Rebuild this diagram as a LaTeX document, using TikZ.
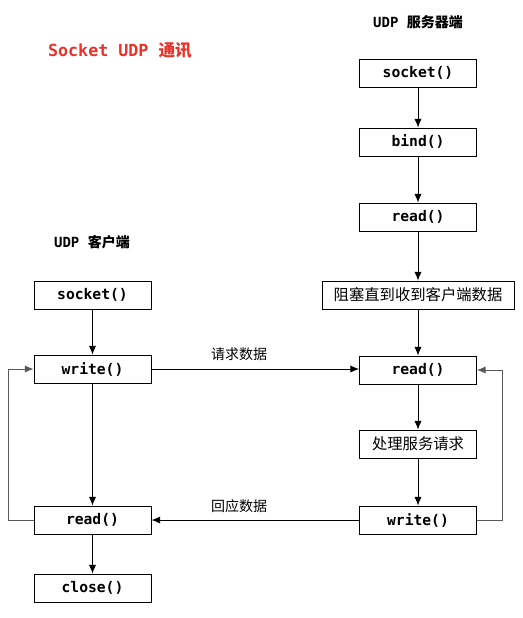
\documentclass[tikz,border=0pt]{standalone}
\usepackage{xcolor}
\usepackage{fontspec}
\usepackage{tikz}
\usetikzlibrary{shapes,arrows.meta,positioning,calc}
\setmonofont{DejaVu Sans Mono}
\newfontfamily\cjk{Noto Sans CJK SC}
\definecolor{titlered}{HTML}{E8322B}

\tikzset{
  func/.style={draw, line width=0.75pt, minimum width=87.75pt, minimum height=21pt,
    inner sep=0pt, font=\ttfamily\bfseries\fontsize{11}{13}\selectfont},
  flow/.style={-{Latex[length=6.5pt,width=5.5pt]}, line width=0.7pt},
  backline/.style={-{Latex[length=6.5pt,width=5.5pt]}, line width=0.7pt, black!65},
  msg/.style={font=\cjk\fontsize{10.5}{12}\selectfont},
  side/.style={font=\ttfamily\bfseries\fontsize{10.5}{12}\selectfont}
}

\begin{document}
\begin{tikzpicture}[x=0.75pt, y=-0.75pt]
        \useasboundingbox (0,0) rectangle (523,618);

        % Title
        \node[text=titlered, font=\ttfamily\bfseries\fontsize{12.5}{14}\selectfont] (title) at (120,50)
            {Socket UDP {\cjk\bfseries 通讯}};

        % Server side
        \node[side] (slabel) at (418,22) {UDP {\cjk\bfseries 服务器端}};
        \node[func] (ssocket) at (418,73) {socket()};
        \node[func] (sbind) at (418,142) {bind()};
        \node[func] (sread1) at (418,217) {read()};
        \node[func, minimum width=144pt, font=\cjk\fontsize{11.5}{13}\selectfont] (sblock) at (418,295) {阻塞直到收到客户端数据};
        \node[func] (sread) at (418,370) {read()};
        \node[func, font=\cjk\fontsize{11.5}{13}\selectfont] (sproc) at (418,444) {处理服务请求};
        \node[func] (swrite) at (418,520) {write()};

        \draw[flow] (ssocket) -- (sbind);
        \draw[flow] (sbind) -- (sread1);
        \draw[flow] (sread1) -- (sblock);
        \draw[flow] (sblock) -- (sread);
        \draw[flow] (sread) -- (sproc);
        \draw[flow] (sproc) -- (swrite);
        \draw[backline] (swrite.east) -- ++(25,0) |- (sread.east);

        % Client side
        \node[side] (clabel) at (92,242) {UDP {\cjk\bfseries 客户端}};
        \node[func] (csocket) at (92.5,295) {socket()};
        \node[func] (cwrite) at (92.5,369) {write()};
        \node[func] (cread) at (92.5,520) {read()};
        \node[func] (cclose) at (92.5,588) {close()};

        \draw[flow] (csocket) -- (cwrite);
        \draw[flow] (cwrite) -- (cread);
        \draw[flow] (cread) -- (cclose);
        \draw[backline] (cread.west) -- ++(-25,0) |- (cwrite.west);

        % Messages
        \draw[flow] (cwrite.east) -- (cwrite.east -| sread.west);
        \node[msg] (req) at (239,354) {请求数据};
        \draw[flow] (swrite.west) -- (swrite.west -| cread.east);
        \node[msg] (resp) at (239,506) {回应数据};
\end{tikzpicture}
\end{document}
